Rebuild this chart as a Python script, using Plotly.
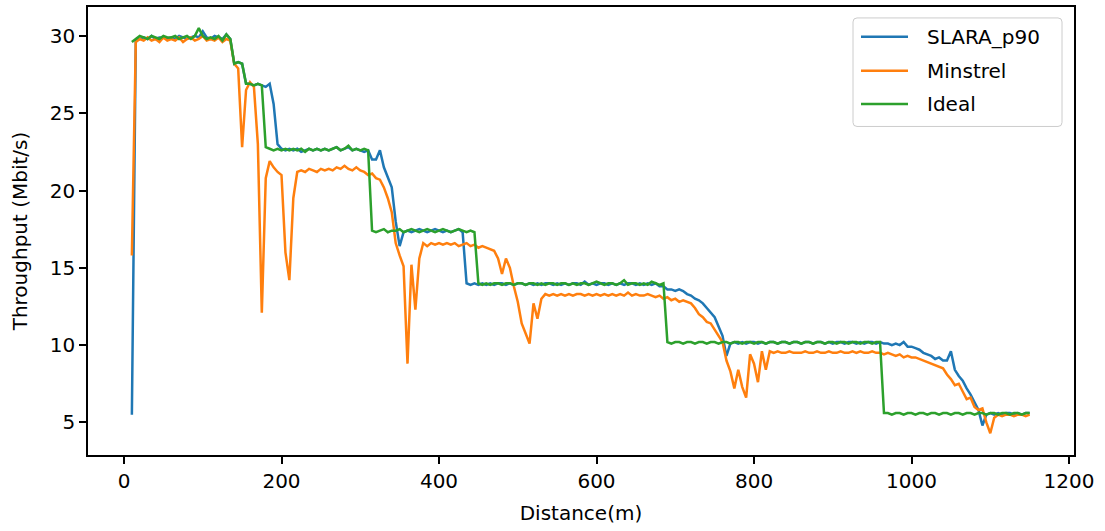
import plotly.graph_objects as go

# Distance grid (m), 5 m sampling from 10 m to 1150 m
distance_m = list(range(10, 1151, 5))

slara_p90 = [
    5.5, 29.7, 29.8, 29.9, 29.8, 30.0, 29.8, 29.9, 29.9, 29.8,
    29.9, 29.8, 30.0, 29.9, 29.8, 29.9, 30.0, 29.9, 30.3, 29.9,
    29.8, 30.0, 29.9, 29.8, 30.1, 29.8, 28.2, 28.3, 28.2, 26.9,
    26.9, 26.8, 26.9, 26.8, 26.7, 26.9, 25.6, 23.0, 22.7, 22.6,
    22.7, 22.6, 22.7, 22.5, 22.6, 22.7, 22.6, 22.7, 22.6, 22.7,
    22.6, 22.7, 22.8, 22.6, 22.7, 22.8, 22.6, 22.7, 22.6, 22.5,
    22.6, 22.0, 22.0, 22.6, 21.5, 20.9, 20.2, 18.0, 16.4, 17.3,
    17.4, 17.3, 17.4, 17.5, 17.4, 17.3, 17.4, 17.5, 17.4, 17.3,
    17.4, 17.3, 17.4, 17.5, 17.3, 14.0, 13.9, 14.0, 13.9, 14.0,
    13.9, 14.0, 13.9, 14.0, 14.0, 13.9, 14.0, 13.9, 14.0, 14.0,
    13.9, 14.0, 13.9, 14.0, 13.9, 14.0, 14.0, 13.9, 14.0, 13.9,
    14.0, 13.9, 14.0, 14.0, 13.9, 14.1, 13.9, 14.0, 13.9, 14.0,
    14.0, 13.9, 14.0, 13.9, 14.0, 13.9, 14.0, 14.0, 13.9, 14.0,
    13.9, 14.0, 13.9, 14.0, 13.8, 13.8, 13.6, 13.6, 13.5, 13.6,
    13.5, 13.3, 13.2, 13.0, 12.9, 12.7, 12.4, 12.1, 11.8, 11.2,
    10.6, 9.3, 10.1, 10.2, 10.1, 10.2, 10.1, 10.2, 10.2, 10.1,
    10.2, 10.1, 10.2, 10.2, 10.1, 10.2, 10.2, 10.1, 10.2, 10.2,
    10.1, 10.2, 10.2, 10.1, 10.2, 10.2, 10.1, 10.2, 10.1, 10.2,
    10.2, 10.1, 10.2, 10.2, 10.1, 10.2, 10.1, 10.2, 10.2, 10.1,
    10.2, 10.1, 10.1, 10.0, 10.1, 10.0, 10.2, 9.9, 9.9, 9.8,
    9.7, 9.5, 9.4, 9.3, 9.1, 9.2, 9.0, 9.0, 9.6, 8.4,
    8.0, 7.7, 7.2, 6.8, 6.3, 5.8, 4.8, 5.5, 5.6, 5.5,
    5.6, 5.5, 5.6, 5.6, 5.5, 5.6, 5.5, 5.6, 5.6,
]

minstrel = [
    15.8, 29.6, 29.8, 29.7, 29.9, 29.7, 29.8, 29.6, 29.9, 29.7,
    29.8, 29.7, 29.9, 29.6, 29.8, 29.9, 29.7, 29.8, 30.0, 29.7,
    29.8, 29.7, 29.9, 29.6, 29.8, 29.7, 28.2, 27.9, 22.8, 26.5,
    27.0, 26.7, 23.0, 12.1, 20.8, 21.9, 21.5, 21.2, 21.0, 16.0,
    14.2, 19.5, 21.2, 21.3, 21.2, 21.4, 21.3, 21.2, 21.4, 21.3,
    21.4, 21.3, 21.5, 21.4, 21.6, 21.4, 21.3, 21.5, 21.3, 21.2,
    21.0, 21.1, 20.8, 20.7, 20.2, 19.5, 18.6, 16.6, 15.8, 15.1,
    8.8, 15.2, 12.3, 15.6, 16.6, 16.4, 16.6, 16.5, 16.6, 16.5,
    16.6, 16.5, 16.6, 16.4, 16.5, 16.6, 16.4, 16.5, 16.3, 16.4,
    16.3, 16.2, 16.1, 15.6, 14.6, 15.6, 15.0, 13.8, 12.8, 11.4,
    10.7, 10.1, 12.7, 11.7, 13.0, 13.3, 13.2, 13.3, 13.2, 13.3,
    13.2, 13.3, 13.2, 13.3, 13.3, 13.2, 13.3, 13.2, 13.3, 13.2,
    13.3, 13.2, 13.3, 13.2, 13.3, 13.2, 13.4, 13.2, 13.3, 13.2,
    13.2, 13.3, 13.2, 13.1, 13.2, 13.0, 13.1, 12.9, 13.0, 12.8,
    12.9, 12.8, 12.7, 12.4, 12.0, 11.8, 11.5, 11.4, 11.0, 10.6,
    10.2, 9.0, 8.3, 7.2, 8.4, 7.3, 6.6, 9.4, 8.8, 7.6,
    9.6, 8.4, 9.6, 9.5, 9.6, 9.5, 9.5, 9.6, 9.5, 9.5,
    9.5, 9.6, 9.5, 9.5, 9.6, 9.5, 9.5, 9.6, 9.5, 9.5,
    9.6, 9.5, 9.5, 9.6, 9.5, 9.6, 9.5, 9.5, 9.6, 9.5,
    9.5, 9.4, 9.5, 9.4, 9.3, 9.4, 9.2, 9.3, 9.2, 9.2,
    9.1, 9.0, 8.9, 8.8, 8.7, 8.6, 8.5, 8.1, 7.8, 7.4,
    7.5, 7.0, 6.5, 6.6, 6.0, 5.8, 5.9, 5.0, 4.3, 5.3,
    5.5, 5.4, 5.5, 5.5, 5.4, 5.5, 5.5, 5.4, 5.5,
]

ideal = [
    29.6, 29.8, 30.0, 29.9, 29.8, 30.0, 29.9, 29.8, 30.0, 29.9,
    29.9, 30.0, 29.8, 29.9, 30.0, 29.8, 30.0, 30.5, 30.0, 29.8,
    29.9, 29.8, 30.0, 29.7, 30.1, 29.8, 28.2, 28.3, 28.2, 26.9,
    26.9, 26.8, 26.9, 26.8, 22.8, 22.7, 22.6, 22.7, 22.6, 22.7,
    22.6, 22.7, 22.6, 22.7, 22.5, 22.7, 22.6, 22.7, 22.6, 22.7,
    22.6, 22.7, 22.8, 22.6, 22.7, 22.9, 22.6, 22.7, 22.6, 22.7,
    22.6, 17.4, 17.3, 17.4, 17.5, 17.3, 17.4, 17.4, 17.5, 17.3,
    17.4, 17.5, 17.4, 17.3, 17.4, 17.5, 17.4, 17.3, 17.4, 17.5,
    17.4, 17.3, 17.4, 17.5, 17.4, 17.3, 17.4, 17.3, 14.0, 13.9,
    14.0, 13.9, 14.0, 14.0, 13.9, 14.0, 14.0, 13.9, 14.0, 14.0,
    13.9, 14.0, 14.0, 13.9, 14.0, 13.9, 14.0, 14.0, 13.9, 14.0,
    14.0, 13.9, 14.0, 13.9, 14.0, 14.0, 13.9, 14.0, 14.1, 14.0,
    13.9, 14.0, 14.0, 13.9, 14.0, 14.2, 13.9, 14.0, 14.0, 13.9,
    14.0, 13.9, 14.1, 14.0, 13.9, 14.0, 10.2, 10.1, 10.2, 10.2,
    10.1, 10.2, 10.2, 10.1, 10.2, 10.2, 10.1, 10.2, 10.2, 10.1,
    10.2, 10.2, 10.1, 10.2, 10.2, 10.1, 10.2, 10.2, 10.1, 10.2,
    10.2, 10.1, 10.2, 10.2, 10.1, 10.2, 10.2, 10.1, 10.2, 10.2,
    10.1, 10.2, 10.2, 10.1, 10.2, 10.2, 10.1, 10.2, 10.2, 10.1,
    10.2, 10.2, 10.1, 10.2, 10.2, 10.1, 10.2, 10.2, 10.1, 10.2,
    10.2, 5.6, 5.6, 5.5, 5.6, 5.6, 5.5, 5.6, 5.6, 5.5,
    5.6, 5.6, 5.5, 5.6, 5.6, 5.5, 5.6, 5.6, 5.5, 5.6,
    5.6, 5.5, 5.6, 5.6, 5.5, 5.6, 5.6, 5.5, 5.6, 5.6,
    5.5, 5.6, 5.6, 5.5, 5.6, 5.6, 5.5, 5.6, 5.6,
]

series_names = ["SLARA_p90", "Minstrel", "Ideal"]
series_colors = ["#1f77b4", "#ff7f0e", "#2ca02c"]
series_values = [slara_p90, minstrel, ideal]

FONT = "DejaVu Sans"
FS = 20
W, H = 1105, 531
ML, MR, MT, MB = 88, 31, 5, 76
PW, PH = W - ML - MR, H - MT - MB


def px(xp):
    return (xp - ML) / PW


def py(yp):
    return (H - MB - yp) / PH


fig = go.Figure()
for name, color, vals in zip(series_names, series_colors, series_values):
    fig.add_trace(go.Scatter(
        x=distance_m, y=vals, mode="lines", name=name,
        line=dict(color=color, width=2.5), showlegend=False,
    ))

# Legend drawn in the matplotlib style (box with rounded corners)
L, R, T, B, r = 853, 1062, 16, 125, 4
path = (
    f"M {px(L + r)},{py(T)} L {px(R - r)},{py(T)} Q {px(R)},{py(T)} {px(R)},{py(T + r)} "
    f"L {px(R)},{py(B - r)} Q {px(R)},{py(B)} {px(R - r)},{py(B)} "
    f"L {px(L + r)},{py(B)} Q {px(L)},{py(B)} {px(L)},{py(B - r)} "
    f"L {px(L)},{py(T + r)} Q {px(L)},{py(T)} {px(L + r)},{py(T)} Z"
)
shapes = [dict(type="path", xref="paper", yref="paper", path=path,
               fillcolor="rgba(255,255,255,0.8)", line=dict(color="#cccccc", width=1),
               layer="above")]
annotations = []
row_y = [35, 69, 102.5]
for name, color, yy in zip(series_names, series_colors, row_y):
    shapes.append(dict(type="line", xref="paper", yref="paper",
                       x0=px(861), x1=px(908), y0=py(yy), y1=py(yy),
                       line=dict(color=color, width=2.5), layer="above"))
    annotations.append(dict(xref="paper", yref="paper", x=px(925), y=py(yy),
                            xanchor="left", yanchor="middle", showarrow=False,
                            text=name, font=dict(family=FONT, size=FS, color="black")))

axis_common = dict(
    showgrid=False, zeroline=False,
    showline=True, mirror=True, linecolor="black", linewidth=1.6,
    ticks="outside", ticklen=7, tickwidth=1.6, tickcolor="black",
    tickfont=dict(family=FONT, size=FS, color="black"),
)

fig.update_layout(
    width=W, height=H,
    margin=dict(l=ML, r=MR, t=MT, b=MB),
    paper_bgcolor="white", plot_bgcolor="white",
    font=dict(family=FONT, size=FS, color="black"),
    xaxis=dict(
        range=[-45.7, 1206.3], tickmode="array",
        tickvals=[0, 200, 400, 600, 800, 1000, 1200],
        title=dict(text="Distance(m)", font=dict(family=FONT, size=FS), standoff=14),
        **axis_common,
    ),
    yaxis=dict(
        range=[2.89, 31.87], tickmode="array",
        tickvals=[5, 10, 15, 20, 25, 30],
        title=dict(text="Throughput (Mbit/s)", font=dict(family=FONT, size=FS), standoff=17),
        **axis_common,
    ),
    shapes=shapes,
    annotations=annotations,
    showlegend=False,
)

fig.write_html("out.html")
